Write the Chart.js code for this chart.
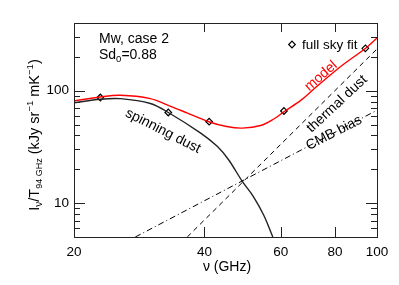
<!DOCTYPE html>
<html>
<head>
<meta charset="utf-8">
<script src="https://cdn.jsdelivr.net/npm/chart.js@4/dist/chart.umd.min.js"></script>
<style>
  body { margin: 0; background: #fff; }
  #wrap { width: 399px; height: 285px; }
</style>
</head>
<body>
<div id="wrap"><canvas id="grafica" width="399" height="285"></canvas></div>
<script>
// datos (GHz, kJy sr^-1 mK^-1)
const fitFreq = [23, 33, 41, 61, 94];
const fitVal = [87, 64, 53, 66, 238];

const spinFreq = [20, 23, 25.6, 30, 33, 39.2, 42.8, 45.5, 48.9, 51.9, 54.8, 57.5];
const spinVal = [78, 84, 85, 77, 64, 42, 32, 24.2, 15.6, 11.4, 7.8, 5];

const modelFreq = [20, 23, 25.6, 30, 33, 35.2, 41.1, 45, 48.9, 53.9, 57.8, 61, 66.7, 71.6, 82.6, 94.3, 100];
const modelVal = [81, 88, 91, 85, 74, 67, 52.7, 48, 46.5, 49, 56, 65, 82, 104, 165, 240, 294];

const dustFreq = [36.5, 100];
const dustVal = [5, 235];

const cmbFreq = [27.7, 100];
const cmbVal = [5, 67];

const xTicks = [20, 40, 60, 80, 100];
const yTicks = [5, 6, 7, 8, 9, 10, 20, 30, 40, 50, 60, 70, 80, 90, 100, 200, 300, 400];
const yLabels = [10, 100];

const pts = (xs, ys) => xs.map((x, i) => ({ x: x, y: ys[i] }));
const FONT = "'Liberation Sans', Arial, sans-serif";

// ticks hacia dentro en los cuatro lados + marco
const marcas = {
  id: 'marcas',
  afterDraw(chart) {
    const { ctx, chartArea: a, scales: { x, y } } = chart;
    ctx.save();
    ctx.strokeStyle = '#222';
    ctx.lineWidth = 1;
    ctx.strokeRect(Math.round(a.left) + 0.5, Math.round(a.top) + 0.5,
      Math.round(a.right - a.left), Math.round(a.bottom - a.top));
    ctx.beginPath();
    y.ticks.forEach(t => {
      const p = Math.round(y.getPixelForValue(t.value)) + 0.5;
      const len = yLabels.includes(t.value) ? 11 : 6;
      ctx.moveTo(a.left, p); ctx.lineTo(a.left + len, p);
      ctx.moveTo(a.right, p); ctx.lineTo(a.right - len, p);
    });
    x.ticks.forEach(t => {
      const p = Math.round(x.getPixelForValue(t.value)) + 0.5;
      ctx.moveTo(p, a.bottom); ctx.lineTo(p, a.bottom - 10);
      ctx.moveTo(p, a.top); ctx.lineTo(p, a.top + 9);
    });
    ctx.stroke();
    ctx.restore();
  }
};

// textos: titulos, etiquetas de curvas, leyenda
function partes(ctx, segs, x0, y0) {
  let x = x0;
  segs.forEach(s => {
    ctx.font = s.size + 'px ' + FONT;
    ctx.fillText(s.t, x, y0 + (s.dy || 0));
    x += ctx.measureText(s.t).width;
  });
  return x - x0;
}
function ancho(ctx, segs) {
  let w = 0;
  segs.forEach(s => { ctx.font = s.size + 'px ' + FONT; w += ctx.measureText(s.t).width; });
  return w;
}
function rotado(ctx, txt, cx, cy, ang, color) {
  ctx.save();
  ctx.translate(cx, cy);
  ctx.rotate(ang * Math.PI / 180);
  ctx.fillStyle = color;
  ctx.font = '14px ' + FONT;
  ctx.textAlign = 'center';
  ctx.textBaseline = 'middle';
  ctx.fillText(txt, 0, 0);
  ctx.restore();
}

const textos = {
  id: 'textos',
  afterDraw(chart) {
    const ctx = chart.ctx;
    ctx.save();
    ctx.fillStyle = '#000';
    ctx.textBaseline = 'alphabetic';

    // titulo eje y
    const yt = [
      { t: 'I', size: 14.5 }, { t: 'ν', size: 10, dy: 3 },
      { t: '/T', size: 14.5 }, { t: '94 GHz', size: 9, dy: 3 },
      { t: ' (kJy sr', size: 14.5 }, { t: '−1', size: 9.5, dy: -6 },
      { t: ' mK', size: 14.5 }, { t: '−1', size: 9.5, dy: -6 },
      { t: ')', size: 14.5 }
    ];
    ctx.save();
    ctx.translate(39, 135);
    ctx.rotate(-Math.PI / 2);
    partes(ctx, yt, -ancho(ctx, yt) / 2, 0);
    ctx.restore();

    // titulo eje x
    ctx.font = '14px ' + FONT;
    ctx.textAlign = 'center';
    ctx.fillText('ν (GHz)', 227, 271);
    ctx.textAlign = 'left';

    // caso
    ctx.font = '14px ' + FONT;
    ctx.fillText('Mw, case 2', 99, 43);
    partes(ctx, [{ t: 'Sd', size: 14 }, { t: '0', size: 9.5, dy: 3 }, { t: '=0.88', size: 14 }], 99, 59);

    // leyenda
    ctx.font = '13.5px ' + FONT;
    ctx.fillText('full sky fit', 302, 49);
    ctx.restore();

    rotado(ctx, 'model', 321, 76, -41, '#ff0000');
    rotado(ctx, 'thermal dust', 337, 104, -43, '#000');
    rotado(ctx, 'CMB bias', 334, 133, -27, '#000');
    rotado(ctx, 'spinning dust', 163, 131, 27, '#000');
  }
};

// simbolo de la leyenda
const leyenda = {
  id: 'leyenda',
  afterDraw(chart) {
    const ctx = chart.ctx;
    const cx = 292, cy = 44.5, r = 3.3;
    ctx.save();
    ctx.strokeStyle = '#000';
    ctx.fillStyle = '#fff';
    ctx.lineWidth = 1.2;
    ctx.beginPath();
    ctx.moveTo(cx, cy - r); ctx.lineTo(cx + r, cy); ctx.lineTo(cx, cy + r); ctx.lineTo(cx - r, cy);
    ctx.closePath();
    ctx.fill(); ctx.stroke();
    ctx.restore();
  }
};

new Chart(document.getElementById('grafica'), {
  type: 'scatter',
  data: {
    datasets: [
      {
        label: 'CMB bias',
        data: pts(cmbFreq, cmbVal),
        showLine: true,
        borderColor: '#000',
        borderWidth: 1,
        borderDash: [6, 3, 1, 3],
        pointRadius: 0,
        fill: false
      },
      {
        label: 'thermal dust',
        data: pts(dustFreq, dustVal),
        showLine: true,
        borderColor: '#000',
        borderWidth: 1,
        borderDash: [5, 4],
        pointRadius: 0,
        fill: false
      },
      {
        label: 'spinning dust',
        data: pts(spinFreq, spinVal),
        showLine: true,
        borderColor: '#222',
        borderWidth: 1.4,
        tension: 0.35,
        pointRadius: 0,
        fill: false
      },
      {
        label: 'model',
        data: pts(modelFreq, modelVal),
        showLine: true,
        borderColor: '#ff0000',
        borderWidth: 1.4,
        tension: 0.35,
        pointRadius: 0,
        fill: false
      },
      {
        label: 'full sky fit',
        data: pts(fitFreq, fitVal),
        showLine: false,
        pointStyle: 'rectRot',
        pointRadius: 3.3,
        pointBorderWidth: 1.2,
        borderColor: '#000',
        backgroundColor: '#fff'
      }
    ]
  },
  options: {
    responsive: false,
    animation: false,
    layout: { padding: { top: 23, right: 22, left: 0, bottom: 0 } },
    plugins: { legend: { display: false }, tooltip: { enabled: false } },
    scales: {
      x: {
        type: 'logarithmic',
        min: 20,
        max: 100,
        afterBuildTicks: s => { s.ticks = xTicks.map(v => ({ value: v })); },
        afterFit: s => { s.height = 48; },
        grid: { display: false, drawTicks: false },
        border: { display: false },
        ticks: {
          autoSkip: false,
          maxRotation: 0,
          padding: 7,
          color: '#000',
          font: { family: FONT, size: 13.5 },
          callback: v => String(v)
        }
      },
      y: {
        type: 'logarithmic',
        min: 5,
        max: 400,
        afterBuildTicks: s => { s.ticks = yTicks.map(v => ({ value: v })); },
        afterFit: s => { s.width = 74; },
        grid: { display: false, drawTicks: false },
        border: { display: false },
        ticks: {
          autoSkip: false,
          padding: 5,
          color: '#000',
          font: { family: FONT, size: 13.5 },
          callback: v => (yLabels.includes(v) ? String(v) : '')
        }
      }
    }
  },
  plugins: [marcas, textos, leyenda]
});
</script>
</body>
</html>
